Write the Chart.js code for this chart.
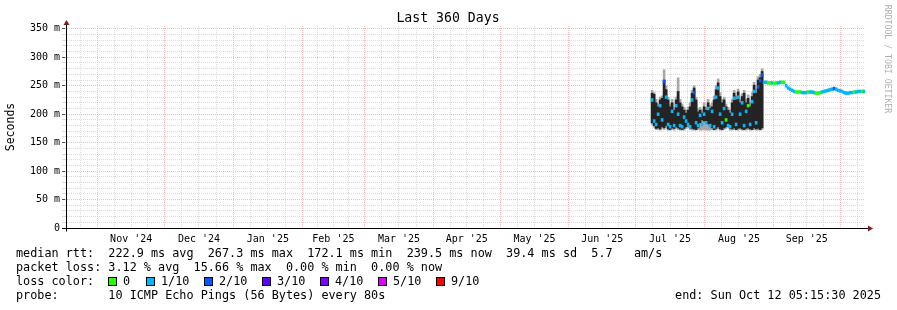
<!DOCTYPE html>
<html><head><meta charset="utf-8">
<script src="https://cdn.jsdelivr.net/npm/chart.js@4.4.1/dist/chart.umd.min.js"></script>
<style>html,body{margin:0;padding:0;background:#fff}#wrap{width:897px;height:310px}</style>
</head><body><div id="wrap"><canvas id="c" width="897" height="310"></canvas></div>
<script>
// ---------- data ----------
const graphTitle = 'Last 360 Days';
const yAxisTitle = 'Seconds';
const watermark = 'RRDTOOL / TOBI OETIKER';
const graphEndMs = Date.UTC(2025, 9, 12, 5, 15, 30);
const spanDays = 360;
const monthLabels = ["Nov '24","Dec '24","Jan '25","Feb '25","Mar '25","Apr '25","May '25","Jun '25","Jul '25","Aug '25","Sep '25"];
const yTickValues = [0,10,20,30,40,50,60,70,80,90,100,110,120,130,140,150,160,170,180,190,200,210,220,230,240,250,260,270,280,290,300,310,320,330,340,350];

// samples: one every 0.9 day starting at day 264.2 of the 360-day window
const firstSampleDay = 264.2;
const sampleStepDays = 0.9;

// median RTT (ms)
const medianRtt = [
 225,188,182,200,215,190,257,230,182,178,205,180,215,200,180,178,195,188,182,178,
 225,238,185,180,198,182,200,185,210,180,205,178,230,246,200,185,210,190,180,178,
 200,228,182,230,200,220,180,205,215,182,222,240,185,248,259,269,
 256,256,255,255,255,254,255,255,256,256,256,250,246,244,242,240,239,239,239,238,
 238,238,239,239,239,238,237,237,238,239,240,241,242,243,244,245,244,242,241,240,
 238,237,237,238,238,239,239,240,240,240,240
];
// lost pings out of 10 per sample
const lossCount = [
 1,1,1,1,1,1,2,1,1,1,1,1,1,1,1,1,1,1,1,1,
 1,2,1,1,1,1,1,1,1,1,1,1,1,1,1,1,1,0,1,1,
 1,1,1,1,1,1,1,1,0,1,1,1,1,2,2,2,
 1,1,0,0,1,0,0,1,1,0,0,1,1,1,1,1,0,0,0,1,
 1,1,0,1,1,1,0,0,0,1,1,1,1,1,1,2,1,1,1,1,
 1,1,1,1,1,0,1,1,1,0,1
];
// dense smoke (ms) — where most pings fall
const smokeDarkHigh = [237,235,220,213,225,228,260,243,225,213,220,207,225,240,220,213,207,202,207,213,237,246,225,204,207,202,213,207,220,210,213,225,243,255,231,220,225,213,207,202,220,237,225,239,220,231,237,220,228,213,231,251,237,260,264,275];
const smokeDarkLow  = [185,180,175,176,174,178,176,180,174,173,176,175,178,176,174,173,175,178,180,176,175,174,173,176,185,190,188,186,183,180,176,173,175,178,174,173,176,178,180,175,174,176,173,175,176,174,173,175,176,174,173,176,174,175,173,176];
// outer smoke (ms) — the spread of all pings
const smokeLightHigh = [242,238,226,218,230,232,278,250,230,218,226,212,230,264,226,218,212,208,212,220,242,250,230,210,212,208,220,212,226,216,220,232,250,262,238,226,230,218,212,208,226,242,232,244,226,236,242,226,234,220,238,256,244,266,270,280];
const smokeLightLow  = [182,177,173,173,172,175,173,177,172,172,173,172,175,173,172,172,172,175,177,173,172,172,172,173,172,172,173,172,172,172,173,172,172,175,172,172,173,175,177,172,172,173,172,172,173,172,172,172,173,172,172,173,172,172,172,173];

const lossLegend = [['0','#26ff00'],['1/10','#00b8ff'],['2/10','#0059ff'],['3/10','#5e00ff'],['4/10','#7e00ff'],['5/10','#dd00ff'],['9/10','#ff0000']];
const lossColorFor = {0:'#26ff00',1:'#00b8ff',2:'#0059ff',3:'#5e00ff',4:'#7e00ff',5:'#dd00ff',9:'#ff0000'};
const statLines = [
 'median rtt:  222.9 ms avg  267.3 ms max  172.1 ms min  239.5 ms now  39.4 ms sd  5.7   am/s',
 'packet loss: 3.12 % avg  15.66 % max  0.00 % min  0.00 % now'
];
const probeText = 'probe:       10 ICMP Echo Pings (56 Bytes) every 80s';
const endText = 'end: Sun Oct 12 05:15:30 2025';

// ---------- helpers ----------
const graphStartMs = graphEndMs - spanDays * 86400000;
const dayOf = ms => (ms - graphStartMs) / 86400000;
const sampleDay = i => firstSampleDay + i * sampleStepDays;
const MEDIAN_HALF = 2.5;

const xTicks = [];
for (let m = 0; m <= 12; m++) {
  const s = Date.UTC(2024, 9 + m, 1), e = Date.UTC(2024, 10 + m, 1);
  for (let q = 0; q < 4; q++) {
    const d = dayOf(s + (e - s) * q / 4);
    if (d < 0 || d > spanDays) continue;
    xTicks.push({value: d, major: q === 0, label: (q === 2 && m >= 1 && m <= 11) ? monthLabels[m - 1] : ''});
  }
}

const medianData = medianRtt.map((v, i) => ({x: sampleDay(i), y: [v - MEDIAN_HALF, v + MEDIAN_HALF]}));
const darkData = smokeDarkHigh.map((v, i) => ({x: sampleDay(i), y: [smokeDarkLow[i], v]}));
const lightData = smokeLightHigh.map((v, i) => ({x: sampleDay(i), y: [smokeLightLow[i], v]}));

const MONO = '"DejaVu Sans Mono", monospace';
Chart.defaults.font.family = MONO;
const MINOR = 'rgba(190,190,190,0.55)';
const MAJOR = 'rgba(245,120,120,0.5)';

const decor = {
  id: 'decor',
  afterDraw(chart) {
    const ctx = chart.ctx, a = chart.chartArea;
    ctx.save();
    // axes
    ctx.strokeStyle = '#000'; ctx.lineWidth = 1;
    const ax = Math.round(a.left) + 1.5, ay = Math.round(a.bottom) + 0.5;
    ctx.beginPath(); ctx.moveTo(ax, ay + 3); ctx.lineTo(ax, a.top - 2); ctx.stroke();
    ctx.beginPath(); ctx.moveTo(ax - 4, ay); ctx.lineTo(a.right + 3, ay); ctx.stroke();
    ctx.fillStyle = '#7f1e1e';
    ctx.beginPath(); ctx.moveTo(ax - 3, a.top - 1); ctx.lineTo(ax + 3, a.top - 1); ctx.lineTo(ax, a.top - 6); ctx.closePath(); ctx.fill();
    ctx.beginPath(); ctx.moveTo(a.right + 3, ay - 3); ctx.lineTo(a.right + 3, ay + 3); ctx.lineTo(a.right + 8, ay); ctx.closePath(); ctx.fill();
    // title
    ctx.fillStyle = '#000'; ctx.textBaseline = 'middle'; ctx.textAlign = 'center';
    ctx.font = '13.2px ' + MONO;
    ctx.fillText(graphTitle, 448, 19);
    // y title
    ctx.save(); ctx.translate(11, 127); ctx.rotate(-Math.PI / 2);
    ctx.font = '11.5px ' + MONO; ctx.fillText(yAxisTitle, 0, 0); ctx.restore();
    // watermark
    ctx.save(); ctx.translate(887, 59); ctx.rotate(Math.PI / 2);
    ctx.fillStyle = '#b0b0b0'; ctx.font = '8.2px ' + MONO; ctx.fillText(watermark, 0, 0); ctx.restore();
    // legend
    ctx.textAlign = 'left'; ctx.font = '11.8px ' + MONO; ctx.fillStyle = '#000';
    ctx.fillText(statLines[0], 16, 254);
    ctx.fillText(statLines[1], 16, 268);
    ctx.fillText('loss color:', 16, 282);
    let x = 108;
    lossLegend.forEach(([lab, col]) => {
      ctx.fillStyle = col; ctx.fillRect(x, 277, 9, 9);
      ctx.strokeStyle = '#000'; ctx.strokeRect(x + 0.5, 277.5, 8, 8);
      ctx.fillStyle = '#000'; ctx.fillText(lab, x + 15, 282);
      x += lab.length > 1 ? 58 : 38;
    });
    ctx.fillText(probeText, 16, 296);
    ctx.textAlign = 'right'; ctx.fillText(endText, 881, 296);
    ctx.restore();
  }
};

new Chart(document.getElementById('c'), {
  type: 'bar',
  data: {datasets: [
    {label: 'median', data: medianData, order: 0, grouped: false, barPercentage: 1, categoryPercentage: 1,
     backgroundColor: c => lossColorFor[lossCount[c.dataIndex]] || '#000'},
    {label: 'smoke', data: darkData, order: 1, grouped: false, barPercentage: 1, categoryPercentage: 1, backgroundColor: '#242424'},
    {label: 'smoke outer', data: lightData, order: 2, grouped: false, barPercentage: 1, categoryPercentage: 1, backgroundColor: '#a8a8a8'}
  ]},
  options: {
    responsive: false, animation: false, devicePixelRatio: 1, events: [],
    layout: {padding: {left: 0, top: 26, right: 32, bottom: 62}},
    plugins: {legend: {display: false}, tooltip: {enabled: false}, title: {display: false}},
    scales: {
      x: {type: 'linear', min: 0, max: spanDays, offset: false,
        afterBuildTicks: s => { s.ticks = xTicks.map(t => ({value: t.value})); },
        afterFit: s => { s.height = 20; },
        ticks: {autoSkip: false, maxRotation: 0, minRotation: 0, padding: 5, color: '#000', font: {size: 10},
          callback: (v, i) => xTicks[i] ? xTicks[i].label : ''},
        grid: {offset: false, drawTicks: false, lineWidth: 1, color: c => (xTicks[c.index] && xTicks[c.index].major) ? MAJOR : MINOR},
        border: {display: false, dash: [1, 1]}
      },
      y: {min: 0, max: 355,
        afterBuildTicks: s => { s.ticks = yTickValues.map(v => ({value: v})); },
        afterFit: s => { s.width = 65; },
        ticks: {autoSkip: false, padding: 2, color: '#000', font: {size: 10},
          callback: v => v % 50 === 0 ? (v === 0 ? '0' : v + ' m') : ''},
        grid: {lineWidth: 1, tickLength: 3,
          color: c => (c.tick && c.tick.value % 50 === 0) ? MAJOR : MINOR,
          tickColor: c => (c.tick && c.tick.value % 50 === 0) ? '#555' : MINOR},
        border: {display: false, dash: [1, 1]}
      }
    }
  },
  plugins: [decor]
});
</script>
</body></html>
